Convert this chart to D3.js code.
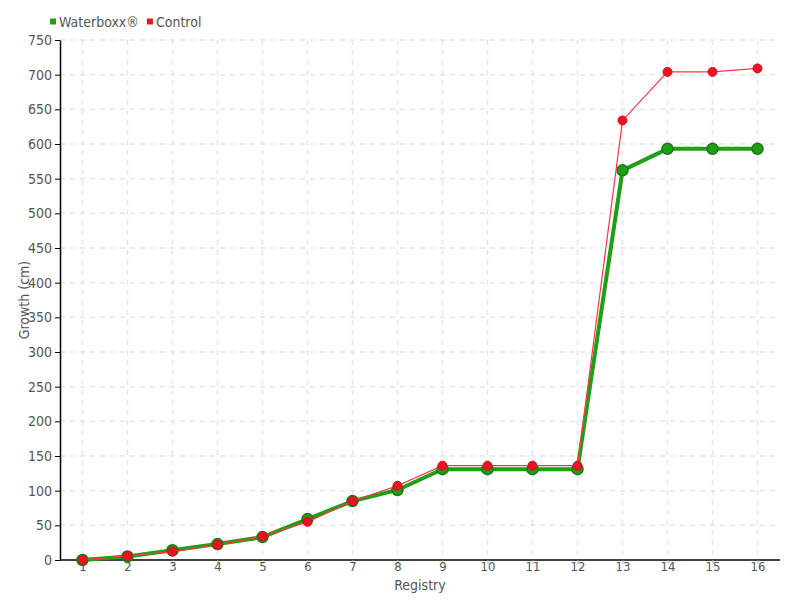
<!DOCTYPE html>
<html><head><meta charset="utf-8">
<script src="https://cdn.jsdelivr.net/npm/d3@7"></script>
<style>
body{margin:0;background:#fff;}
text{font-family:"DejaVu Sans Condensed","DejaVu Sans",sans-serif;font-stretch:condensed;fill:#555;}
</style></head>
<body><svg id="c" width="800" height="600"></svg>
<script>
const categories = ["1","2","3","4","5","6","7","8","9","10","11","12","13","14","15","16"];
const waterboxx = [0,5,14,23,33,59,85,101,131,131,131,131,562,593,593,593];
const control = [0,6,12,22,34,55,85,107,136,136,136,136,634,704,704,709];
const yTicks = d3.range(0,751,50);
const seriesNames = ["Waterboxx®","Control"];

const svg = d3.select("#c");
const m = {l:60,r:20,t:40,b:40};
const W=800,H=600;
const x = d3.scalePoint().domain(categories).range([m.l,W-m.r]).padding(0.5);
const y = d3.scaleLinear().domain([0,750]).range([H-m.b,m.t]);

// grid
const g = svg.append("g");
g.selectAll(".hg").data(yTicks.filter(d=>d>0)).enter().append("line")
 .attr("x1",m.l).attr("x2",W-m.r).attr("y1",d=>y(d)).attr("y2",d=>y(d))
 .attr("stroke","#e6e6e6").attr("stroke-dasharray","5,5").attr("stroke-width",1.5);
g.selectAll(".vg").data(categories).enter().append("line")
 .attr("x1",d=>x(d)).attr("x2",d=>x(d)).attr("y1",m.t).attr("y2",H-m.b)
 .attr("stroke","#e6e6e6").attr("stroke-dasharray","5,5").attr("stroke-width",1.5);

// axes
const ya = svg.append("g").attr("transform",`translate(${m.l},0)`)
 .call(d3.axisLeft(y).tickValues(yTicks).tickSize(5).tickSizeOuter(0));
ya.select(".domain").attr("stroke","#000").attr("stroke-width",1.5);
ya.selectAll(".tick line").attr("stroke","#000");
ya.selectAll("text").style("font-size","14px").attr("fill","#555");
const xa = svg.append("g").attr("transform",`translate(0,${H-m.b})`)
 .call(d3.axisBottom(x).tickSize(4).tickSizeOuter(0));
xa.select(".domain").attr("d",`M${m.l},0H${W-m.r}`).attr("stroke","#000").attr("stroke-width",1.5);
xa.selectAll(".tick line").attr("stroke","#aaa");
xa.selectAll("text").style("font-size","13px").attr("fill","#555").attr("y",2).attr("dy","0.71em");

svg.append("text").attr("x",420).attr("y",590).attr("text-anchor","middle").style("font-size","14px").text("Registry");
svg.append("text").attr("transform","translate(29,300) rotate(-90)").attr("text-anchor","middle").style("font-size","14px").text("Growth (cm)");

const line = d3.line().x((d,i)=>x(categories[i])).y(d=>y(d));
// green
svg.append("path").datum(waterboxx).attr("d",line).attr("fill","none").attr("stroke","#1f9e16").attr("stroke-width",4);
svg.selectAll(".gp").data(waterboxx).enter().append("circle")
 .attr("cx",(d,i)=>x(categories[i])).attr("cy",d=>y(d)).attr("r",5.5)
 .attr("fill","#1f9e16").attr("stroke","#177a14").attr("stroke-width",1.5);
// red
svg.append("path").datum(control).attr("d",line).attr("fill","none").attr("stroke","#ff3545").attr("stroke-width",1.2);
svg.selectAll(".rp").data(control).enter().append("circle")
 .attr("cx",(d,i)=>x(categories[i])).attr("cy",d=>y(d)).attr("r",4.5)
 .attr("fill","#ee1122").attr("stroke","#d01020").attr("stroke-width",1);

// legend
const lg = svg.append("g");
const colors = ["#1f9e16","#ee1122"];
let lx = 50;
seriesNames.forEach((n,i)=>{
  lg.append("rect").attr("x",lx).attr("y",18.5).attr("width",6).attr("height",6).attr("fill",colors[i]);
  const t = lg.append("text").attr("x",lx+9).attr("y",27).style("font-size","14px").text(n);
  lx += 9 + t.node().getComputedTextLength() + 8;
});
</script></body></html>
